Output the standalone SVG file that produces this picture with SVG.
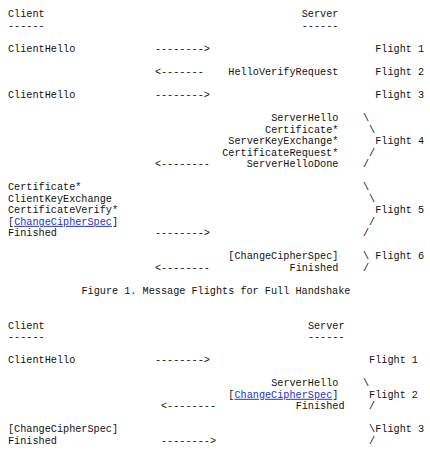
<svg xmlns="http://www.w3.org/2000/svg" width="430" height="451" viewBox="0 0 430 451">
<style>
  text { font-family: "Liberation Mono", "Courier New", monospace; font-size: 10.2px; fill: #111; white-space: pre; }
  .link { fill: #2233cc; text-decoration: underline; }
</style>
<rect x="0" y="0" width="430" height="451" fill="#ffffff"/>

<!-- Figure 1 -->
<g id="fig1">
  <g id="fig1-client"><text x="8" y="17.3">Client</text><text x="8" y="28.83">------</text></g>
  <g id="fig1-server"><text x="301.76" y="17.3">Server</text><text x="301.76" y="28.83">------</text></g>

  <g id="f1-flight1">
    <text x="8" y="51.89">ClientHello</text>
    <text x="375.2" y="51.89">Flight 1</text>
  </g>
  <g id="f1-flight2">
    <text x="228.32" y="74.95">HelloVerifyRequest</text>
    <text x="375.2" y="74.95">Flight 2</text>
  </g>
  <g id="f1-flight3">
    <text x="8" y="98.01">ClientHello</text>
    <text x="375.2" y="98.01">Flight 3</text>
  </g>
  <g id="f1-flight4">
    <text x="271.16" y="121.07">ServerHello</text>
    <text x="265.04" y="132.6">Certificate*</text>
    <text x="228.32" y="144.13">ServerKeyExchange*</text>
    <text x="222.2" y="155.66">CertificateRequest*</text>
    <text x="246.68" y="167.19">ServerHelloDone</text>
    <text x="362.96" y="121.07">\</text>
    <text x="369.08" y="132.6">\</text>
    <text x="375.2" y="144.13">Flight 4</text>
    <text x="369.08" y="155.66">/</text>
    <text x="362.96" y="167.19">/</text>
  </g>
  <g id="f1-flight5">
    <text x="8" y="190.25">Certificate*</text>
    <text x="8" y="201.78">ClientKeyExchange</text>
    <text x="8" y="213.31">CertificateVerify*</text>
    <text x="8" y="224.84">[<tspan class="link">ChangeCipherSpec</tspan>]</text>
    <text x="8" y="236.37">Finished</text>
    <text x="362.96" y="190.25">\</text>
    <text x="369.08" y="201.78">\</text>
    <text x="375.2" y="213.31">Flight 5</text>
    <text x="369.08" y="224.84">/</text>
    <text x="362.96" y="236.37">/</text>
  </g>
  <g id="f1-flight6">
    <text x="228.32" y="259.43">[ChangeCipherSpec]</text>
    <text x="289.52" y="270.96">Finished</text>
    <text x="362.96" y="259.43">\ Flight 6</text>
    <text x="362.96" y="270.96">/</text>
  </g>
  <g id="fig1-caption"><text x="81.44" y="294.02">Figure 1. Message Flights for Full Handshake</text></g>
</g>

<!-- Figure 2 -->
<g id="fig2">
  <g id="fig2-client"><text x="8" y="328.61">Client</text><text x="8" y="340.14">------</text></g>
  <g id="fig2-server"><text x="307.88" y="328.61">Server</text><text x="307.88" y="340.14">------</text></g>
  <g id="f2-flight1">
    <text x="8" y="363.2">ClientHello</text>
    <text x="369.08" y="363.2">Flight 1</text>
  </g>
  <g id="f2-flight2">
    <text x="271.16" y="386.26">ServerHello</text>
    <text x="228.32" y="397.79">[<tspan class="link">ChangeCipherSpec</tspan>]</text>
    <text x="295.64" y="409.32">Finished</text>
    <text x="362.96" y="386.26">\</text>
    <text x="369.08" y="397.79">Flight 2</text>
    <text x="369.08" y="409.32">/</text>
  </g>
  <g id="f2-flight3">
    <text x="8" y="432.38">[ChangeCipherSpec]</text>
    <text x="8" y="443.91">Finished</text>
    <text x="369.08" y="432.38">\Flight 3</text>
    <text x="369.08" y="443.91">/</text>
  </g>
</g>

<!-- Connectors (ASCII arrows) -->
<g id="connectors">
  <text x="154.88" y="51.89">--------&gt;</text>
  <text x="154.88" y="74.95">&lt;-------</text>
  <text x="154.88" y="98.01">--------&gt;</text>
  <text x="154.88" y="167.19">&lt;--------</text>
  <text x="154.88" y="236.37">--------&gt;</text>
  <text x="154.88" y="270.96">&lt;--------</text>
  <text x="154.88" y="363.2">--------&gt;</text>
  <text x="161" y="409.32">&lt;--------</text>
  <text x="161" y="443.91">--------&gt;</text>
</g>
</svg>
